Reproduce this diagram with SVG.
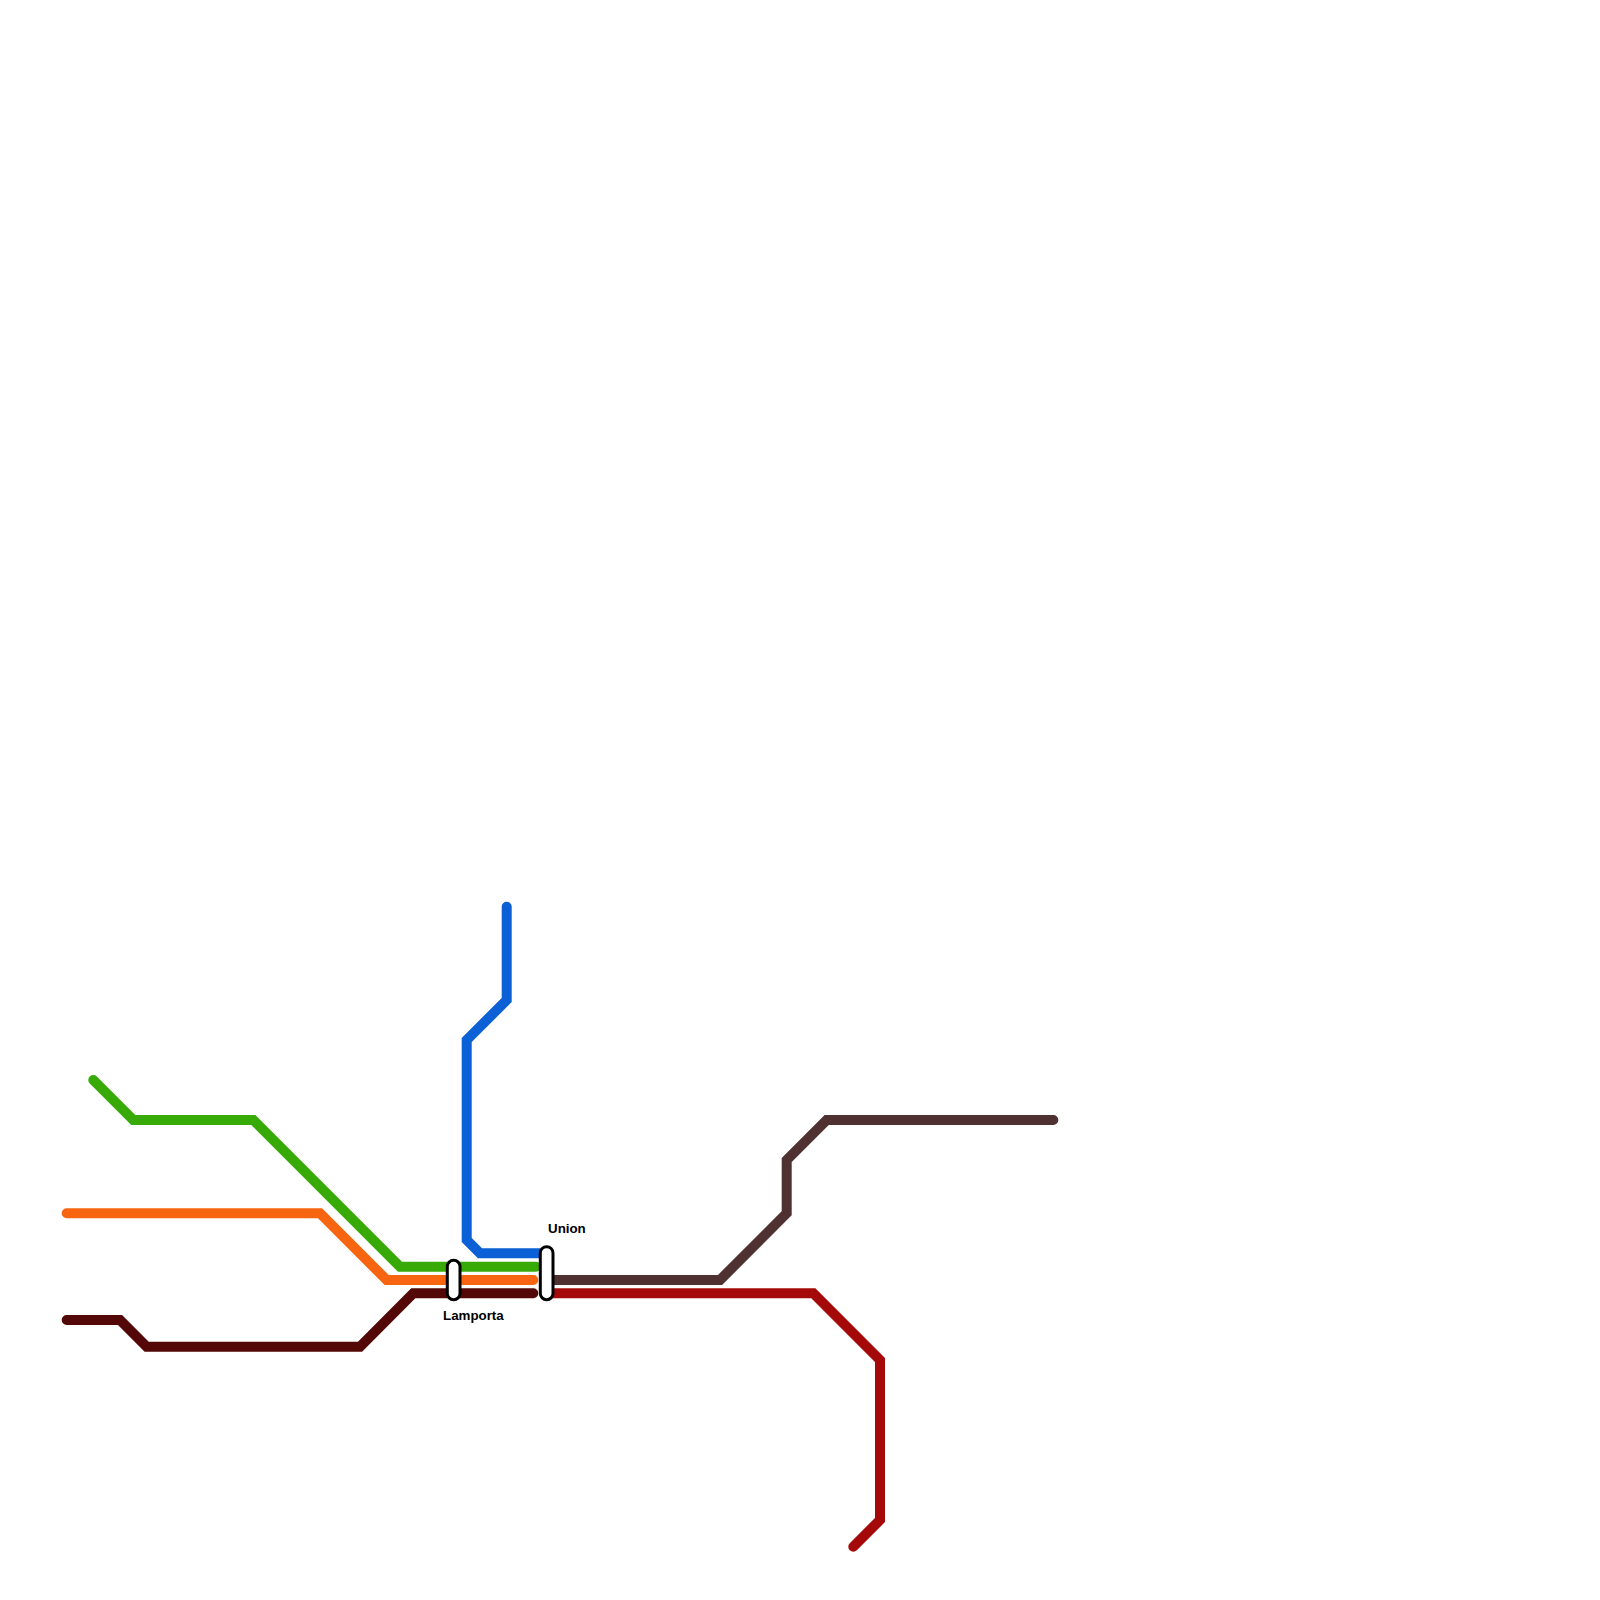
<svg xmlns="http://www.w3.org/2000/svg" width="1600" height="1600" viewBox="0 0 1600 1600">
<style>
.line{fill:none;stroke-width:10;stroke-linecap:round;stroke-linejoin:miter}
.stn{fill:#fff;stroke:#000;stroke-width:3}
.lbl{font-family:"Liberation Sans",Arial,sans-serif;font-size:13.33px;font-weight:bold;fill:#000}
</style>
<rect width="1600" height="1600" fill="#fff"/>
<g id="connectors">
<path class="line" stroke="#0a60d4" d="M506.7 906.7V1000L466.7 1040V1240L480 1253.300H546.700"/>
<path class="line" stroke="#37aa08" d="M93.300 1080L133.300 1120H253.300L400 1266.700H536"/>
<path class="line" stroke="#f86510" d="M66.700 1213.300H320L386.700 1280H533.300"/>
<path class="line" stroke="#530707" d="M66.700 1320H120L146.700 1346.700H360L413.300 1293.300H533.300"/>
<path class="line" stroke="#4f3131" d="M546.700 1280H720L786.700 1213.300V1160L826.700 1120H1053.300"/>
<path class="line" stroke="#a40a0a" d="M546.700 1293.300H813.300L880 1360V1520L853.300 1546.700"/>
</g>
<g id="station-lamporta">
<rect class="stn" x="447.300" y="1260.300" width="12.700" height="39.400" rx="6.300"/>
<text class="lbl" x="443" y="1320">Lamporta</text>
</g>
<g id="station-union">
<rect class="stn" x="540.300" y="1246.700" width="12.700" height="53" rx="6.300"/>
<text class="lbl" x="548" y="1233">Union</text>
</g>
</svg>
